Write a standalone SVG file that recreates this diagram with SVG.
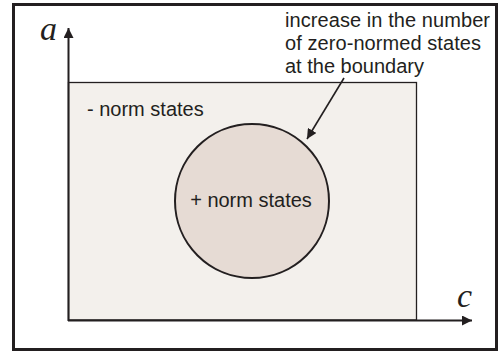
<svg xmlns="http://www.w3.org/2000/svg" width="499" height="352" viewBox="0 0 499 352">
  <style>
    .lbl { font-family: "Liberation Sans", Arial, sans-serif; font-size: 20px; fill: #231f20; }
    .math { font-family: "Liberation Serif", "Times New Roman", serif; font-style: italic; font-size: 34px; fill: #231f20; }
    .ln { stroke: #231f20; fill: none; }
  </style>
  <defs>
    <marker id="ah" viewBox="0 0 10 10" refX="10" refY="5" markerWidth="10" markerHeight="10" markerUnits="userSpaceOnUse" orient="auto">
      <path d="M0,0 L10,5 L0,10 Z" fill="#231f20"/>
    </marker>
    <marker id="ahs" viewBox="0 0 10 10" refX="10" refY="5" markerWidth="10" markerHeight="10" markerUnits="userSpaceOnUse" orient="auto">
      <path d="M0,0 L10,5 L0,10 Z" fill="#231f20"/>
    </marker>
  </defs>
  <rect x="0" y="0" width="499" height="352" fill="#ffffff"/>
  <g id="frame">
    <rect x="13.5" y="4.5" width="483" height="345" class="ln" stroke-width="3"/>
  </g>
  <g id="negative-region">
    <rect x="68.5" y="82.5" width="348" height="237.5" fill="#f3f0ec" stroke="#231f20" stroke-width="1.3"/>
    <text class="lbl" x="87" y="116">- norm states</text>
  </g>
  <g id="positive-region">
    <circle cx="252" cy="201" r="77" fill="#e6dbd4" stroke="#231f20" stroke-width="2"/>
    <text class="lbl" x="251" y="207" text-anchor="middle">+ norm states</text>
  </g>
  <g id="axis-a">
    <text class="math" x="40" y="40">a</text>
  </g>
  <g id="axis-c">
    <text class="math" x="457" y="307">c</text>
  </g>
  <g id="callout">
    <text class="lbl" x="285" y="27" textLength="205" lengthAdjust="spacing">increase in the number</text>
    <text class="lbl" x="285" y="50" textLength="196" lengthAdjust="spacing">of zero-normed states</text>
    <text class="lbl" x="285" y="73" textLength="139" lengthAdjust="spacing">at the boundary</text>
  </g>
  <g id="connectors">
    <line class="ln" x1="68.5" y1="321" x2="68.5" y2="28" stroke-width="2" marker-end="url(#ah)"/>
    <line class="ln" x1="68" y1="320.5" x2="472" y2="320.5" stroke-width="2.2" marker-end="url(#ah)"/>
    <line class="ln" x1="344" y1="78" x2="307" y2="139" stroke-width="1.6" marker-end="url(#ahs)"/>
  </g>
</svg>
